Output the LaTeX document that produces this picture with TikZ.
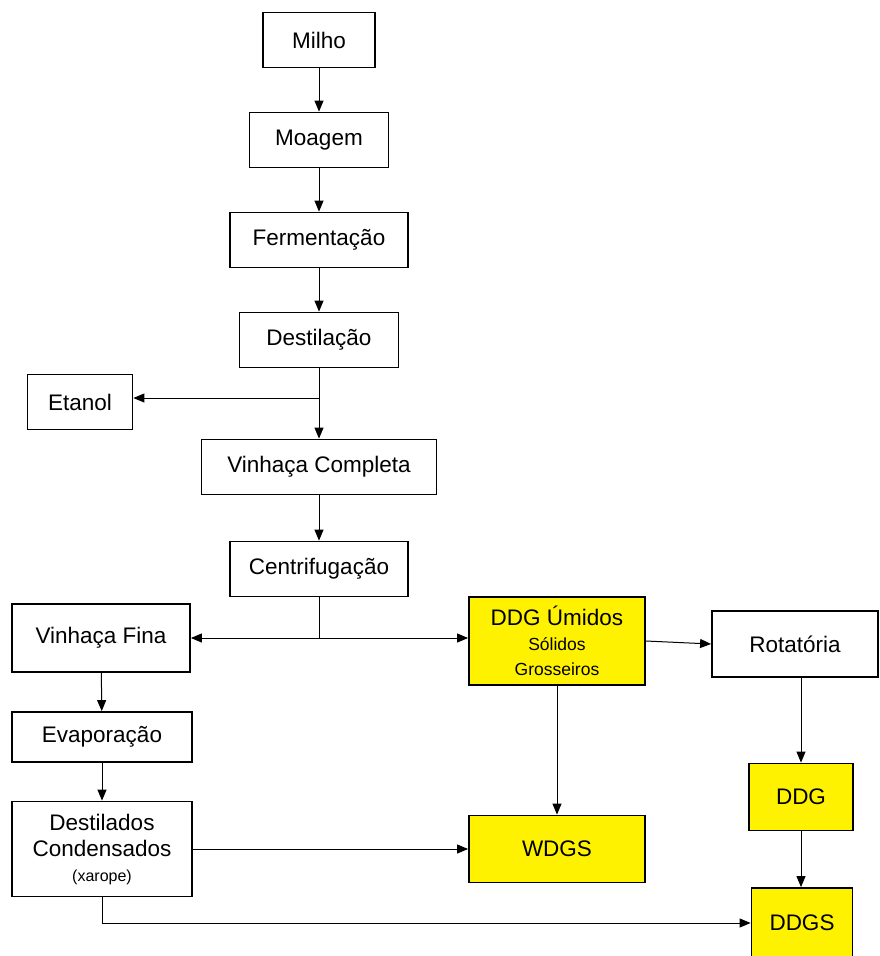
\documentclass[tikz,border=0pt]{standalone}
\usepackage{fontspec}
\setmainfont{Liberation Sans}
\usetikzlibrary{arrows.meta, calc, positioning}

\begin{document}
\begin{tikzpicture}[x=1pt, y=-1pt]
  \tikzstyle{every node} = [draw, line width = 1.8pt, shape = rectangle, align = center, font = \fontsize{22.5}{26}\selectfont, inner sep = 0pt];
  \tikzstyle{prod} = [fill = yellow];
  \tikzstyle{flow} = [-{Triangle[length = 11pt, width = 9pt]}, line width = 1pt];

  \useasboundingbox (0,0) rectangle (879,956);

  \node[minimum width = 112, minimum height = 55] (milho) at (319,40) {Milho};
  \node[minimum width = 139, minimum height = 55] (moagem) at (319,140) {Moagem};
  \node[minimum width = 178, minimum height = 55] (ferm) at (319,240) {Fermentação};
  \node[minimum width = 159, minimum height = 55] (dest) at (319,340) {Destilação};
  \node[minimum width = 105, minimum height = 55] (etanol) at (80,402) {Etanol};
  \node[minimum width = 235, minimum height = 55] (vcomp) at (319,467) {Vinhaça Completa};
  \node[minimum width = 178, minimum height = 55] (centri) at (319,569) {Centrifugação};
  \node[minimum width = 178, minimum height = 68] (vfina) at (101,638) {Vinhaça Fina};
  \node[prod, minimum width = 176, minimum height = 88] (ddgu) at (557,641) {DDG Úmidos\\[-1pt]{\fontsize{17.5}{25}\selectfont Sólidos}\\[-1pt]{\fontsize{17.5}{25}\selectfont Grosseiros}};
  \node[minimum width = 166, minimum height = 66] (rota) at (795,644) {Rotatória};
  \node[minimum width = 180, minimum height = 50] (evap) at (102,737) {Evaporação};
  \node[minimum width = 180, minimum height = 95] (dcond) at (102,849) {Destilados\\Condensados\\[-1pt]{\fontsize{16}{20}\selectfont (xarope)}};
  \node[prod, minimum width = 176, minimum height = 67] (wdgs) at (557,849) {WDGS};
  \node[prod, minimum width = 104, minimum height = 67] (ddg) at (801,797) {DDG};
  \node[prod, minimum width = 101, minimum height = 70] (ddgs) at (802,923) {DDGS};

  \coordinate (je) at (319,398);
  \coordinate (jc) at (319,638);

  \draw[flow] (milho) -- (moagem);
  \draw[flow] (moagem) -- (ferm);
  \draw[flow] (ferm) -- (dest);
  \draw[line width = 1pt] (dest) -- (je);
  \draw[flow] (je) -- (vcomp);
  \draw[flow] (je) -- (je -| etanol.east);
  \draw[flow] (vcomp) -- (centri);
  \draw[line width = 1pt] (centri) -- (jc);
  \draw[flow] (jc) -- (jc -| vfina.east);
  \draw[flow] (jc) -- (jc -| ddgu.west);
  \draw[flow] (ddgu.east) -- (rota.west);
  \draw[flow] (vfina) -- (evap);
  \draw[flow] (evap) -- (dcond);
  \draw[flow] (dcond) -- (wdgs);
  \draw[flow] (ddgu) -- (wdgs);
  \draw[flow] (rota.south -| ddg) -- (ddg);
  \draw[flow] (ddg) -- (ddgs.north -| ddg);
  \draw[flow] (dcond.south) |- (ddgs.west);
\end{tikzpicture}
\end{document}
